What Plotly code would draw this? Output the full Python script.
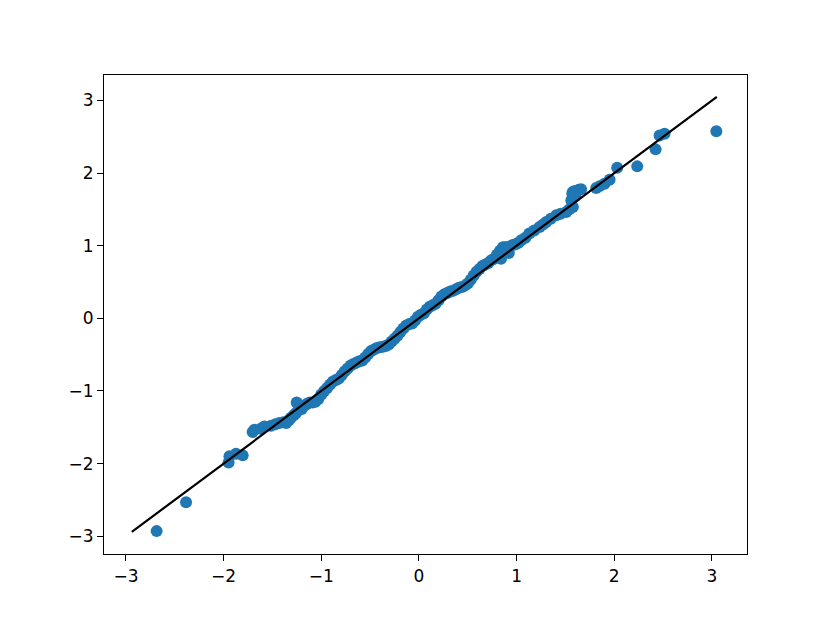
import plotly.graph_objects as go

# Sorted sample quantiles (x) vs sorted sample quantiles (y)
x_vals = [
    -2.686, -2.385, -1.949, -1.940, -1.873, -1.805, -1.703, -1.685, -1.620, -1.583,
    -1.514, -1.470, -1.430, -1.390, -1.360, -1.330, -1.310, -1.280, -1.258, -1.252,
    -1.230, -1.200, -1.170, -1.150, -1.120, -1.088, -1.060, -1.030, -1.000, -0.970,
    -0.940, -0.910, -0.880, -0.850, -0.820, -0.790, -0.760, -0.730, -0.700, -0.670,
    -0.640, -0.610, -0.580, -0.550, -0.520, -0.490, -0.460, -0.430, -0.400, -0.370,
    -0.340, -0.310, -0.280, -0.250, -0.220, -0.190, -0.160, -0.130, -0.100, -0.070,
    -0.040, -0.010, 0.020, 0.050, 0.080, 0.110, 0.140, 0.170, 0.200, 0.230,
    0.260, 0.290, 0.320, 0.350, 0.380, 0.410, 0.440, 0.470, 0.500, 0.530,
    0.560, 0.590, 0.620, 0.650, 0.680, 0.710, 0.740, 0.770, 0.800, 0.830,
    0.840, 0.860, 0.880, 0.900, 0.920, 0.930, 0.960, 0.990, 1.020, 1.047,
    1.090, 1.130, 1.180, 1.235, 1.270, 1.303, 1.350, 1.406, 1.450, 1.508,
    1.540, 1.576, 1.560, 1.570, 1.576, 1.590, 1.610, 1.620, 1.640, 1.660,
    1.600, 1.815, 1.850, 1.900, 1.952, 2.030, 2.235, 2.423, 2.464, 2.515,
    3.045,
]
y_vals = [
    -2.930, -2.533, -1.984, -1.900, -1.864, -1.887, -1.566, -1.534, -1.520, -1.489,
    -1.479, -1.460, -1.440, -1.430, -1.440, -1.400, -1.370, -1.330, -1.305, -1.159,
    -1.260, -1.250, -1.200, -1.180, -1.160, -1.159, -1.150, -1.110, -1.050, -1.000,
    -0.960, -0.910, -0.870, -0.850, -0.830, -0.780, -0.730, -0.690, -0.650, -0.630,
    -0.610, -0.590, -0.580, -0.540, -0.490, -0.450, -0.430, -0.410, -0.400, -0.390,
    -0.380, -0.360, -0.320, -0.280, -0.240, -0.190, -0.140, -0.100, -0.080, -0.070,
    -0.030, 0.020, 0.050, 0.070, 0.120, 0.160, 0.180, 0.200, 0.250, 0.300,
    0.330, 0.350, 0.370, 0.380, 0.400, 0.420, 0.430, 0.450, 0.480, 0.530,
    0.590, 0.640, 0.680, 0.720, 0.740, 0.760, 0.800, 0.820, 0.880, 0.930,
    0.820, 0.980, 0.980, 0.980, 0.900, 0.990, 1.010, 1.020, 1.040, 1.075,
    1.110, 1.168, 1.210, 1.258, 1.290, 1.327, 1.370, 1.419, 1.440, 1.464,
    1.500, 1.533, 1.625, 1.720, 1.739, 1.750, 1.754, 1.760, 1.770, 1.776,
    1.680, 1.794, 1.820, 1.854, 1.909, 2.074, 2.092, 2.326, 2.518, 2.541,
    2.577,
]

# Reference line y = x spanning the data extent
line_x = [-2.94, 3.05]
line_y = [-2.94, 3.05]

tick_vals = [-3, -2, -1, 0, 1, 2, 3]
tick_text = ["\u22123", "\u22122", "\u22121", "0", "1", "2", "3"]

fig = go.Figure()
fig.add_trace(go.Scatter(
    x=x_vals, y=y_vals, mode="markers",
    marker=dict(color="#1f77b4", size=12, line=dict(width=0)),
    showlegend=False, hoverinfo="skip",
))
fig.add_trace(go.Scatter(
    x=line_x, y=line_y, mode="lines",
    line=dict(color="black", width=2.2),
    showlegend=False, hoverinfo="skip",
))

axis_common = dict(
    showgrid=False, zeroline=False, showline=True, mirror=True,
    linecolor="black", linewidth=1.2, ticks="outside", ticklen=6,
    tickwidth=1.2, tickcolor="black",
    tickfont=dict(family="DejaVu Sans", size=17, color="black"),
    tickvals=tick_vals, ticktext=tick_text,
)

fig.update_layout(
    width=830, height=623,
    margin=dict(l=96, r=91, t=67, b=77),
    paper_bgcolor="white", plot_bgcolor="white",
    xaxis=dict(range=[-3.225, 3.359], **axis_common),
    yaxis=dict(range=[-3.245, 3.35], **axis_common),
)

fig.write_html("out.html")
